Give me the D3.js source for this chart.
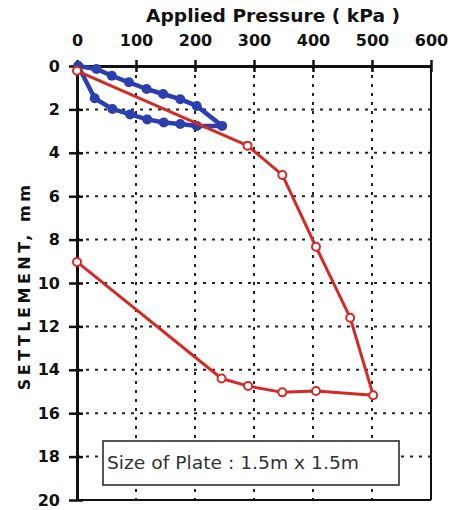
<!DOCTYPE html>
<html>
<head>
<meta charset="utf-8">
<script src="https://cdn.jsdelivr.net/npm/d3@7"></script>
<style>
  body { margin: 0; background: #fff; }
  svg { font-family: "DejaVu Sans", sans-serif; }
</style>
</head>
<body>
<svg id="plot" width="455" height="510"></svg>
<script>
// data
const loadPressure = [0, 289, 348, 405, 463, 502, 405, 348, 290, 245, 0];
const loadSettlement = [0.22, 3.67, 5.02, 8.33, 11.6, 15.17, 14.98, 15.04, 14.75, 14.4, 9.03];

const cyclePressure = [2, 33, 59, 88, 118, 146, 175, 203, 246, 203, 175, 147, 119, 90, 60, 30, 2];
const cycleSettlement = [0, 0.14, 0.45, 0.75, 1.06, 1.29, 1.53, 1.84, 2.76, 2.76, 2.67, 2.6, 2.46, 2.23, 1.98, 1.49, 0];

const xTicks = [0, 100, 200, 300, 400, 500, 600];
const yTicks = [0, 2, 4, 6, 8, 10, 12, 14, 16, 18, 20];

const plot = d3.select('#plot');

const pLeft = 77, pRight = 431, pTop = 66, pBottom = 500;

const xScale = d3.scaleLinear().domain([0, 600]).range([pLeft, pRight]);
const yScale = d3.scaleLinear().domain([0, 20]).range([pTop, pBottom]);

// dotted grid
plot.append('g')
  .selectAll('line')
  .data(xTicks.slice(1, -1))
  .join('line')
  .attr('x1', d => xScale(d)).attr('x2', d => xScale(d))
  .attr('y1', pTop).attr('y2', pBottom)
  .attr('stroke', '#222')
  .attr('stroke-width', 2)
  .attr('stroke-dasharray', '3,6');

plot.append('g')
  .selectAll('line')
  .data(yTicks.slice(1, -1))
  .join('line')
  .attr('x1', pLeft).attr('x2', pRight)
  .attr('y1', d => yScale(d)).attr('y2', d => yScale(d))
  .attr('stroke', '#222')
  .attr('stroke-width', 2)
  .attr('stroke-dasharray', '3,6');

// frame (right + bottom thinner)
plot.append('line')
  .attr('x1', pRight).attr('x2', pRight).attr('y1', pTop).attr('y2', pBottom)
  .attr('stroke', '#111').attr('stroke-width', 2);
plot.append('line')
  .attr('x1', pLeft).attr('x2', pRight).attr('y1', pBottom).attr('y2', pBottom)
  .attr('stroke', '#111').attr('stroke-width', 2);

const xAxis = d3.axisTop(xScale)
  .tickValues(xTicks)
  .tickFormat(d3.format('d'))
  .tickSizeOuter(0)
  .tickSizeInner(6);

const yAxis = d3.axisLeft(yScale)
  .tickValues(yTicks)
  .tickFormat(d3.format('d'))
  .tickSizeOuter(0)
  .tickSizeInner(8)
  .tickPadding(9);

const gx = plot.append('g')
  .attr('transform', `translate(0, ${pTop})`)
  .call(xAxis);
gx.select('.domain').attr('stroke-width', 3).attr('stroke', '#111');
gx.selectAll('.tick line').attr('y1', 6).attr('y2', -6).attr('stroke-width', 2.5).attr('stroke', '#111');
gx.selectAll('.tick text')
  .attr('y', -20).attr('dy', null)
  .style('font-size', '16px').style('font-weight', 'bold').attr('fill', '#111')
  .style('font-family', '"DejaVu Sans", sans-serif');

const gy = plot.append('g')
  .attr('transform', `translate(${pLeft}, 0)`)
  .call(yAxis);
gy.select('.domain').attr('stroke-width', 3).attr('stroke', '#111');
gy.selectAll('.tick line').attr('x1', 6).attr('x2', -8).attr('stroke-width', 2.5).attr('stroke', '#111');
gy.selectAll('.tick text')
  .style('font-size', '16px').style('font-weight', 'bold').attr('fill', '#111')
  .style('font-family', '"DejaVu Sans", sans-serif');

// titles
plot.append('text')
  .attr('x', 273).attr('y', 22)
  .attr('text-anchor', 'middle')
  .attr('textLength', 254)
  .attr('lengthAdjust', 'spacingAndGlyphs')
  .style('font-size', '17px').style('font-weight', 'bold').attr('fill', '#111')
  .text('Applied Pressure  ( kPa )');

plot.append('text')
  .attr('transform', `translate(30, ${(182 + 390) / 2}) rotate(-90)`)
  .attr('text-anchor', 'middle')
  .style('font-size', '16px').style('font-weight', 'bold').style('letter-spacing', '3.5px')
  .attr('fill', '#111')
  .text('SETTLEMENT, mm');

// blue cycle
const cycle = cyclePressure.map((p, i) => ({ p: p, s: cycleSettlement[i] }));
const load = loadPressure.map((p, i) => ({ p: p, s: loadSettlement[i] }));

const line = d3.line()
  .x(d => xScale(d.p))
  .y(d => yScale(d.s));

plot.append('path')
  .attr('d', line(cycle))
  .attr('fill', 'none')
  .attr('stroke', '#2b3fae')
  .attr('stroke-width', 4.5)
  .attr('stroke-linejoin', 'round');

plot.append('g')
  .selectAll('circle')
  .data(cycle)
  .join('circle')
  .attr('cx', d => xScale(d.p))
  .attr('cy', d => yScale(d.s))
  .attr('r', 5)
  .attr('fill', '#2b3fae');

// red loading / unloading
plot.append('path')
  .attr('d', line(load))
  .attr('fill', 'none')
  .attr('stroke', '#d42a26')
  .attr('stroke-width', 3)
  .attr('stroke-linejoin', 'round');

plot.append('g')
  .selectAll('circle')
  .data(load)
  .join('circle')
  .attr('cx', d => xScale(d.p))
  .attr('cy', d => yScale(d.s))
  .attr('r', 4)
  .attr('fill', '#fff')
  .attr('stroke', '#d42a26')
  .attr('stroke-width', 2);

// note box
plot.append('rect')
  .attr('x', 103).attr('y', 441)
  .attr('width', 296).attr('height', 44)
  .attr('fill', '#fff')
  .attr('stroke', '#444')
  .attr('stroke-width', 1.8);

plot.append('text')
  .attr('x', 107).attr('y', 469)
  .attr('textLength', 252)
  .attr('lengthAdjust', 'spacingAndGlyphs')
  .style('font-size', '18px').attr('fill', '#333')
  .text('Size of Plate : 1.5m x 1.5m');
</script>
</body>
</html>
